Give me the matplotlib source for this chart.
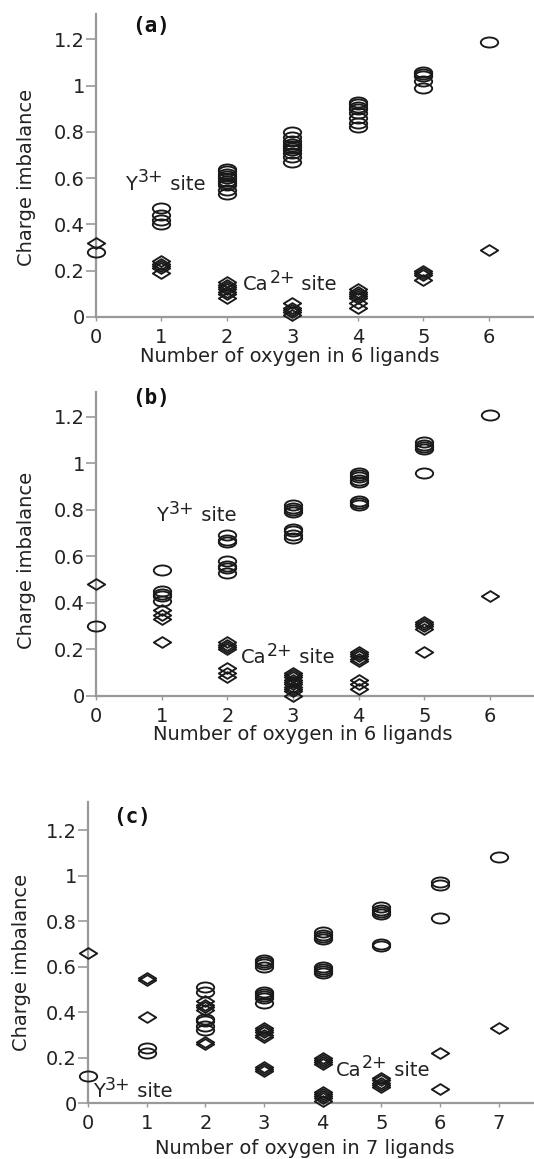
import matplotlib
matplotlib.use('Agg')
import matplotlib.pyplot as plt
from matplotlib.path import Path
from matplotlib.transforms import Affine2D, offset_copy

plt.rcParams['font.family'] = ['DejaVu Sans']

# ---------------- data ----------------
# values grouped by x = number of oxygen (index = x)
a_y3 = [[0.28], [0.40, 0.42, 0.44, 0.47],
        [0.53, 0.55, 0.57, 0.58, 0.59, 0.60, 0.61, 0.62, 0.63, 0.64],
        [0.67, 0.69, 0.71, 0.72, 0.73, 0.74, 0.75, 0.76, 0.78, 0.80],
        [0.82, 0.84, 0.86, 0.88, 0.90, 0.91, 0.92, 0.93],
        [0.99, 1.02, 1.04, 1.05, 1.06], [1.19]]
a_ca = [[0.32], [0.19, 0.21, 0.22, 0.23, 0.24],
        [0.08, 0.10, 0.11, 0.12, 0.13, 0.14, 0.15],
        [0.01, 0.02, 0.03, 0.04, 0.06],
        [0.04, 0.06, 0.08, 0.09, 0.10, 0.11, 0.12],
        [0.16, 0.18, 0.19, 0.20], [0.29]]

b_y3 = [[0.30], [0.41, 0.43, 0.44, 0.45, 0.54],
        [0.53, 0.55, 0.56, 0.58, 0.66, 0.67, 0.69],
        [0.68, 0.69, 0.71, 0.72, 0.79, 0.80, 0.81, 0.82],
        [0.82, 0.83, 0.84, 0.92, 0.93, 0.94, 0.95, 0.96],
        [0.96, 1.06, 1.07, 1.08, 1.09], [1.21]]
b_ca = [[0.48], [0.23, 0.33, 0.35, 0.37],
        [0.08, 0.10, 0.12, 0.20, 0.21, 0.22, 0.23],
        [0.00, 0.02, 0.03, 0.04, 0.05, 0.06, 0.07, 0.08, 0.09, 0.10],
        [0.03, 0.05, 0.07, 0.15, 0.16, 0.17, 0.18, 0.19],
        [0.19, 0.29, 0.30, 0.31, 0.32], [0.43]]

c_y3 = [[0.12], [0.22, 0.24],
        [0.32, 0.34, 0.36, 0.37, 0.49, 0.51],
        [0.44, 0.46, 0.47, 0.48, 0.49, 0.60, 0.61, 0.62, 0.63],
        [0.57, 0.58, 0.59, 0.60, 0.72, 0.73, 0.74, 0.75],
        [0.69, 0.70, 0.83, 0.84, 0.85, 0.86],
        [0.815, 0.96, 0.97], [1.08]]
c_ca = [[0.66], [0.38, 0.54, 0.55],
        [0.26, 0.27, 0.41, 0.42, 0.43, 0.45],
        [0.14, 0.15, 0.16, 0.29, 0.30, 0.31, 0.32, 0.33],
        [0.01, 0.02, 0.03, 0.04, 0.05, 0.17, 0.18, 0.19, 0.20],
        [0.07, 0.08, 0.09, 0.10, 0.11], [0.06, 0.22], [0.33]]

x_ticks_6 = [0, 1, 2, 3, 4, 5, 6]
x_ticks_7 = [0, 1, 2, 3, 4, 5, 6, 7]
y_ticks = [0, 0.2, 0.4, 0.6, 0.8, 1.0, 1.2]
y_ticklabels = ['0', '0.2', '0.4', '0.6', '0.8', '1', '1.2']

# ---------------- markers ----------------
ellipse = Path.unit_circle().transformed(Affine2D().scale(1.0, 0.58))
diamond = Path([(0, 1), (1, 0), (0, -1), (-1, 0), (0, 1)],
               [Path.MOVETO, Path.LINETO, Path.LINETO, Path.LINETO, Path.CLOSEPOLY]
               ).transformed(Affine2D().scale(1.0, 0.62))

GRAY = '#999999'
EDGE = '#1a1a1a'
TXT = '#222222'


def flatten(groups):
    xs, ys = [], []
    for i, g in enumerate(groups):
        for v in g:
            xs.append(i)
            ys.append(v)
    return xs, ys


def site_label(ax, x, y, base, sup):
    renderer = fig.canvas.get_renderer()
    t1 = ax.text(x, y, base, fontsize=14, ha='left', va='center', color=TXT)
    w1 = t1.get_window_extent(renderer).width
    tr2 = offset_copy(ax.transData, fig=fig, x=w1 + 0.5, y=7, units='dots')
    t2 = ax.text(x, y, sup, fontsize=12.5, ha='left', va='center', color=TXT,
                 transform=tr2)
    w2 = t2.get_window_extent(renderer).width
    tr3 = offset_copy(ax.transData, fig=fig, x=w1 + w2 + 1, y=0, units='dots')
    ax.text(x, y, ' site', fontsize=14, ha='left', va='center', color=TXT,
            transform=tr3)


def panel(rect, y3, ca, xticks, xmax, ytop, tag, tagpos, ylab_pos, xlab, xlab_pos,
          ypos, capos):
    ax = fig.add_axes(rect)
    x1, v1 = flatten(ca)
    x2, v2 = flatten(y3)
    ax.plot(x1, v1, linestyle='none', marker=diamond, markersize=12.5,
            markerfacecolor='none', markeredgecolor=EDGE, markeredgewidth=1.35,
            clip_on=False, zorder=3)
    ax.plot(x2, v2, linestyle='none', marker=ellipse, markersize=12.5,
            markerfacecolor='none', markeredgecolor=EDGE, markeredgewidth=1.35,
            clip_on=False, zorder=3)
    ax.set_xlim(0, xmax)
    ax.set_ylim(0, ytop)
    for s in ['top', 'right']:
        ax.spines[s].set_visible(False)
    for s in ['left', 'bottom']:
        ax.spines[s].set_color(GRAY)
        ax.spines[s].set_linewidth(1.6)
    ax.set_xticks(xticks)
    ax.set_xticklabels([str(t) for t in xticks])
    ax.set_yticks(y_ticks)
    ax.set_yticklabels(y_ticklabels)
    ax.tick_params(axis='y', direction='out', length=7, width=1.2, color=GRAY,
                   labelsize=14, pad=1, labelcolor=TXT)
    ax.tick_params(axis='x', direction='out', length=3, width=1.0, color=GRAY,
                   labelsize=14, pad=5, labelcolor=TXT)
    ax.set_ylabel('Charge imbalance', fontsize=14, color=TXT, va='center')
    ax.yaxis.set_label_coords(*ylab_pos)
    ax.set_xlabel(xlab, fontsize=14, color=TXT, va='center')
    ax.xaxis.set_label_coords(*xlab_pos)
    ax.text(tagpos[0], tagpos[1], tag, fontsize=15, fontweight='bold',
            family='DejaVu Sans Mono', ha='left', va='center', color='#111111')
    site_label(ax, ypos[0], ypos[1], 'Y', '3+')
    site_label(ax, capos[0], capos[1], 'Ca', '2+')
    return ax


fig = plt.figure(figsize=(5.34, 11.59), dpi=100)

panel([0.1798, 0.7265, 0.8202, 0.2614], a_y3, a_ca, x_ticks_6, 6.69, 1.31,
      '(a)', (0.55, 1.26), (-0.158, 0.462), 'Number of oxygen in 6 ligands',
      (0.443, -0.132), (0.45, 0.575), (2.25, 0.14))
panel([0.1798, 0.3995, 0.8202, 0.2623], b_y3, b_ca, x_ticks_6, 6.67, 1.307,
      '(b)', (0.55, 1.28), (-0.158, 0.447), 'Number of oxygen in 6 ligands',
      (0.473, -0.128), (0.92, 0.775), (2.2, 0.165))
panel([0.1648, 0.0483, 0.8352, 0.2597], c_y3, c_ca, x_ticks_7, 7.6, 1.323,
      '(c)', (0.42, 1.257), (-0.148, 0.468), 'Number of oxygen in 7 ligands',
      (0.487, -0.15), (0.08, 0.05), (4.22, 0.145))

fig.savefig('out.png', dpi=100)
